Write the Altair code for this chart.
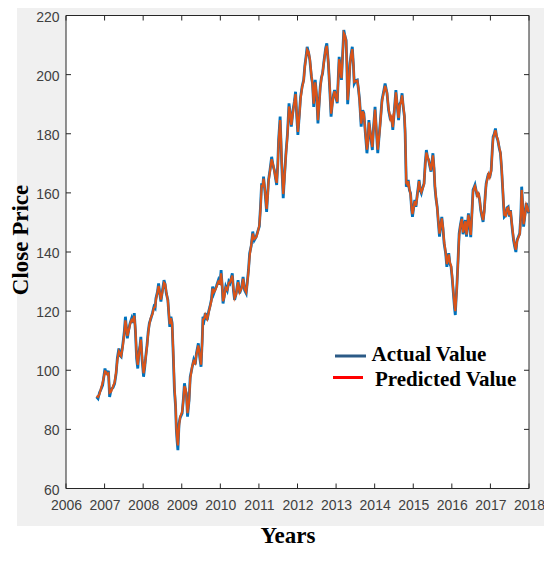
import altair as alt
import pandas as pd

# ---------------- data ----------------
YEARS = [
    2006.79, 2006.83, 2006.87, 2006.90, 2006.95, 2007.01, 2007.04, 2007.07, 2007.10, 2007.13,
    2007.17, 2007.22, 2007.26, 2007.30, 2007.33, 2007.37, 2007.40, 2007.43, 2007.47, 2007.51,
    2007.54, 2007.57, 2007.59, 2007.63, 2007.66, 2007.70, 2007.73, 2007.77, 2007.80, 2007.83,
    2007.86, 2007.89, 2007.92, 2007.94, 2007.97, 2008.01, 2008.04, 2008.07, 2008.10, 2008.13,
    2008.16, 2008.20, 2008.24, 2008.28, 2008.31, 2008.33, 2008.37, 2008.40, 2008.43, 2008.46,
    2008.50, 2008.54, 2008.57, 2008.60, 2008.64, 2008.67, 2008.69, 2008.72, 2008.75, 2008.78,
    2008.81, 2008.84, 2008.86, 2008.88, 2008.90, 2008.93, 2008.96, 2009.01, 2009.04, 2009.07,
    2009.10, 2009.12, 2009.15, 2009.19, 2009.22, 2009.27, 2009.31, 2009.35, 2009.38, 2009.43,
    2009.47, 2009.50, 2009.53, 2009.55, 2009.58, 2009.61, 2009.66, 2009.70, 2009.73, 2009.77,
    2009.80, 2009.83, 2009.86, 2009.90, 2009.95, 2009.99, 2010.02, 2010.05, 2010.07, 2010.10,
    2010.14, 2010.18, 2010.22, 2010.25, 2010.31, 2010.34, 2010.37, 2010.41, 2010.46, 2010.50,
    2010.55, 2010.59, 2010.63, 2010.67, 2010.70, 2010.73, 2010.76, 2010.80, 2010.84, 2010.88,
    2010.93, 2010.97, 2011.01, 2011.04, 2011.07, 2011.10, 2011.12, 2011.16, 2011.20, 2011.23,
    2011.25, 2011.29, 2011.33, 2011.37, 2011.40, 2011.43, 2011.46, 2011.49, 2011.51, 2011.55,
    2011.57, 2011.59, 2011.63, 2011.66, 2011.70, 2011.74, 2011.78, 2011.81, 2011.84, 2011.89,
    2011.92, 2011.95, 2011.98, 2012.01, 2012.05, 2012.08, 2012.12, 2012.16, 2012.19, 2012.22,
    2012.25, 2012.29, 2012.32, 2012.36, 2012.39, 2012.42, 2012.46, 2012.50, 2012.53, 2012.56,
    2012.59, 2012.62, 2012.65, 2012.68, 2012.70, 2012.73, 2012.76, 2012.80, 2012.84, 2012.87,
    2012.90, 2012.93, 2012.96, 2013.00, 2013.03, 2013.06, 2013.08, 2013.11, 2013.14, 2013.17,
    2013.20, 2013.23, 2013.26, 2013.28, 2013.30, 2013.33, 2013.36, 2013.39, 2013.42, 2013.45,
    2013.47, 2013.51, 2013.55, 2013.58, 2013.61, 2013.65, 2013.69, 2013.72, 2013.76, 2013.80,
    2013.83, 2013.85, 2013.89, 2013.94, 2013.97, 2014.01, 2014.04, 2014.08, 2014.12, 2014.15,
    2014.19, 2014.24, 2014.27, 2014.32, 2014.36, 2014.41, 2014.44, 2014.47, 2014.51, 2014.55,
    2014.58, 2014.62, 2014.65, 2014.68, 2014.71, 2014.74, 2014.77, 2014.79, 2014.82, 2014.85,
    2014.87, 2014.90, 2014.93, 2014.96, 2014.98, 2015.02, 2015.04, 2015.07, 2015.10, 2015.13,
    2015.15, 2015.18, 2015.21, 2015.25, 2015.28, 2015.31, 2015.34, 2015.37, 2015.40, 2015.43,
    2015.46, 2015.49, 2015.51, 2015.54, 2015.56, 2015.59, 2015.62, 2015.65, 2015.68, 2015.71,
    2015.74, 2015.77, 2015.80, 2015.84, 2015.87, 2015.90, 2015.92, 2015.95, 2015.98, 2016.01,
    2016.04, 2016.07, 2016.09, 2016.11, 2016.13, 2016.16, 2016.19, 2016.22, 2016.26, 2016.29,
    2016.32, 2016.35, 2016.38, 2016.41, 2016.43, 2016.46, 2016.49, 2016.52, 2016.55, 2016.58,
    2016.60, 2016.64, 2016.66, 2016.69, 2016.72, 2016.75, 2016.78, 2016.81, 2016.84, 2016.87,
    2016.89, 2016.92, 2016.95, 2016.98, 2017.02, 2017.05, 2017.07, 2017.10, 2017.13, 2017.16,
    2017.19, 2017.23, 2017.26, 2017.29, 2017.32, 2017.34, 2017.36, 2017.40, 2017.43, 2017.46,
    2017.49, 2017.52, 2017.55, 2017.57, 2017.60, 2017.63, 2017.66, 2017.69, 2017.72, 2017.76,
    2017.79, 2017.81, 2017.84, 2017.86, 2017.89, 2017.93, 2017.96, 2017.99,
]

ACTUAL = [
    91.0, 90.4, 92.5, 93.3, 95.0, 100.6, 99.0, 98.9, 99.8, 91.0,
    93.5, 94.2, 95.5, 99.0, 104.0, 107.4, 105.0, 104.6, 108.5, 113.0,
    118.1, 113.5, 110.8, 114.0, 115.9, 117.5, 116.0, 119.3, 113.0, 104.0,
    100.6, 106.0, 108.5, 111.3, 104.0, 97.8, 101.0, 105.0, 108.5, 113.0,
    115.9, 117.5, 119.3, 121.5, 121.0, 124.3, 126.5, 129.4, 126.0, 123.2,
    127.0, 130.5, 129.0, 126.0, 123.8, 118.0, 114.7, 118.1, 116.0, 105.0,
    93.3, 87.7, 79.8, 76.0, 73.0, 82.0, 84.0, 85.4, 90.0, 95.6,
    93.0, 92.2, 84.3, 90.0, 97.8, 101.0, 103.5, 102.0, 105.7, 109.1,
    104.0, 101.2, 110.0, 118.1, 117.0, 119.3, 117.0, 120.0, 121.5, 124.0,
    128.3, 126.0, 127.1, 128.5, 130.5, 129.0, 133.9, 128.0, 122.6, 125.0,
    128.3, 127.0, 130.0, 129.4, 132.8, 127.0, 123.8, 126.0, 130.5, 126.0,
    128.0, 131.6, 127.0, 126.0, 130.0, 134.0, 139.6, 142.0, 146.9, 144.0,
    145.2, 147.0, 148.6, 155.0, 163.2, 162.0, 165.5, 160.0, 153.6, 160.0,
    164.4, 168.0, 172.2, 169.0, 167.7, 165.0, 162.7, 170.0, 177.9, 185.8,
    178.0, 170.0, 158.2, 165.0, 173.4, 180.0, 190.3, 187.0, 182.4, 188.6,
    191.0, 194.2, 186.0, 179.6, 187.0, 192.5, 196.0, 198.2, 203.0, 206.0,
    209.4, 207.2, 204.9, 199.3, 197.0, 189.1, 198.2, 192.0, 183.5, 190.0,
    195.9, 199.0, 200.4, 204.0, 206.0, 209.0, 210.6, 203.8, 194.0, 185.8,
    190.0, 193.0, 194.8, 192.0, 190.3, 200.0, 206.0, 202.0, 198.2, 207.0,
    215.1, 213.0, 211.7, 203.0, 190.0, 196.0, 203.8, 207.0, 209.4, 203.0,
    197.0, 198.0, 198.2, 195.0, 191.4, 182.4, 188.0, 186.9, 180.0, 173.4,
    178.0, 184.6, 180.0, 174.5, 182.0, 189.1, 182.0, 173.4, 180.0, 184.6,
    191.4, 194.8, 197.0, 193.7, 188.0, 184.6, 186.0, 181.3, 188.0, 194.8,
    190.0, 184.6, 190.0, 190.8, 193.7, 189.1, 186.0, 180.1, 162.1, 163.0,
    164.4, 161.0, 159.9, 154.0, 151.9, 156.0, 157.6, 155.3, 159.0, 162.0,
    164.4, 161.0, 159.9, 162.0, 163.2, 170.0, 174.5, 172.0, 171.1, 169.0,
    167.2, 171.0, 173.4, 168.0, 162.1, 158.0, 155.3, 150.0, 145.2, 149.0,
    151.9, 148.0, 142.9, 139.6, 135.0, 138.0, 139.6, 136.0, 135.0, 131.0,
    126.0, 121.0, 118.7, 124.0, 128.3, 137.0, 146.3, 149.0, 151.9, 146.0,
    148.6, 150.8, 145.2, 150.0, 153.1, 149.0, 145.0, 153.0, 161.0, 162.0,
    162.7, 160.0, 158.7, 160.0, 157.6, 154.0, 152.0, 150.2, 154.0, 160.0,
    163.2, 165.0, 166.6, 165.0, 167.7, 175.0, 179.0, 180.0, 181.8, 179.0,
    177.9, 175.0, 173.4, 168.0, 161.0, 156.0, 151.9, 152.5, 155.0, 155.3,
    152.0, 154.2, 150.0, 147.4, 144.0, 141.8, 140.0, 144.0, 145.0, 146.3,
    153.0, 162.1, 155.0, 148.6, 152.0, 156.5, 155.0, 153.1,
]

PREDICTED = [
    91.3, 91.0, 92.0, 93.5, 95.8, 99.6, 99.4, 98.6, 98.9, 92.4,
    92.8, 94.6, 95.9, 99.4, 103.3, 106.4, 105.6, 104.9, 108.0, 112.2,
    116.9, 114.3, 111.6, 113.6, 115.6, 117.0, 116.6, 118.4, 113.8, 105.0,
    101.8, 105.3, 108.2, 110.4, 104.8, 99.0, 101.3, 104.6, 108.1, 112.4,
    115.5, 117.8, 119.0, 121.2, 121.4, 123.7, 126.3, 128.5, 126.4, 123.9,
    126.6, 129.6, 129.2, 126.5, 123.5, 118.6, 115.6, 117.6, 115.5, 106.2,
    94.5, 88.2, 80.6, 77.0, 74.6, 81.2, 84.3, 85.9, 89.6, 94.6,
    93.6, 91.8, 85.5, 89.6, 97.2, 101.3, 103.1, 102.4, 105.3, 108.4,
    104.6, 101.9, 109.4, 117.2, 117.4, 118.8, 117.4, 119.7, 121.3, 123.6,
    127.6, 126.4, 126.9, 128.2, 130.0, 129.4, 132.8, 128.6, 123.4, 124.6,
    127.9, 127.3, 129.6, 129.7, 132.0, 127.6, 124.5, 125.7, 129.8, 126.4,
    127.7, 131.0, 127.5, 126.4, 129.6, 133.5, 138.8, 142.3, 146.2, 144.4,
    145.0, 146.7, 148.9, 154.2, 162.4, 162.4, 164.8, 160.6, 154.6, 159.4,
    164.0, 167.6, 171.4, 169.4, 167.4, 165.3, 163.4, 169.4, 177.1, 184.6,
    178.8, 170.8, 159.6, 164.4, 172.8, 179.5, 189.2, 187.4, 183.0, 188.0,
    190.7, 193.4, 186.8, 180.6, 186.4, 192.0, 195.7, 198.0, 202.6, 205.6,
    208.4, 207.5, 205.2, 199.8, 196.6, 190.2, 197.4, 192.5, 184.6, 189.5,
    195.4, 198.7, 200.6, 203.6, 205.7, 208.6, 209.7, 204.2, 194.6, 186.8,
    189.6, 192.6, 194.4, 192.3, 190.8, 199.2, 205.2, 202.4, 198.8, 206.3,
    214.0, 213.3, 211.4, 203.6, 191.4, 195.6, 203.2, 206.7, 208.6, 203.5,
    197.5, 197.8, 198.0, 195.4, 191.0, 183.4, 187.6, 186.6, 180.5, 174.6,
    177.6, 183.8, 180.4, 175.5, 181.6, 188.2, 182.5, 174.6, 179.6, 184.2,
    190.9, 194.4, 196.2, 193.9, 188.5, 184.9, 185.7, 182.2, 187.6, 194.0,
    190.4, 185.4, 189.6, 190.6, 193.0, 189.5, 186.3, 181.0, 163.4, 162.8,
    164.0, 161.3, 159.5, 154.6, 152.8, 155.6, 157.2, 155.7, 158.6, 161.7,
    164.0, 161.4, 160.3, 161.7, 163.0, 169.3, 173.6, 172.3, 171.0, 169.3,
    167.6, 170.6, 172.7, 168.4, 162.8, 158.4, 155.0, 150.5, 146.2, 148.6,
    151.4, 148.4, 143.6, 139.9, 135.9, 137.6, 139.2, 136.4, 135.4, 131.6,
    126.6, 121.9, 120.0, 123.6, 128.0, 136.3, 145.5, 148.7, 151.2, 146.6,
    148.3, 150.4, 145.9, 149.6, 152.6, 149.4, 145.8, 152.4, 160.3, 161.8,
    162.3, 160.3, 159.0, 159.7, 157.9, 154.4, 152.4, 150.8, 153.6, 159.5,
    162.9, 164.7, 166.3, 165.3, 167.4, 174.4, 178.4, 179.8, 181.2, 179.3,
    178.1, 175.3, 173.6, 168.5, 161.6, 156.6, 152.6, 152.3, 154.7, 155.0,
    152.4, 153.9, 150.4, 147.8, 144.5, 142.3, 140.8, 143.6, 144.8, 146.0,
    152.4, 161.0, 155.4, 149.4, 151.7, 156.0, 155.2, 153.4,
]

X_TICKS = list(range(2006, 2019))
Y_TICKS = list(range(60, 221, 20))
SERIES = ["Actual Value", "Predicted Value"]

# ---------------- styling ----------------
W, H = 463, 473
LINE_BLUE = "#0072BD"
LINE_ORANGE = "#D95319"
LEG_BLUE = "#2b5a86"
LEG_RED = "#ff0000"
FIG_GRAY = "#f0f0f0"
AX_COLOR = "#262626"
LABEL_COLOR = "#404040"
SERIF = "Liberation Serif"
SANS = "Liberation Sans"

df = pd.DataFrame({"year": YEARS, "actual": ACTUAL, "predicted": PREDICTED})
xt = pd.DataFrame({"year": X_TICKS})
yt = pd.DataFrame({"price": Y_TICKS})
one = pd.DataFrame({"k": [0]})

XS = alt.Scale(domain=[2006, 2018], nice=False, zero=False)
YS = alt.Scale(domain=[60, 220], nice=False, zero=False)
XA = alt.Axis(values=X_TICKS, format="d", title=None, grid=False, domain=False,
              ticks=False, tickSize=0, labelFont=SANS, labelFontSize=14,
              labelColor=LABEL_COLOR, labelPadding=10, labelFlush=False,
              labelOverlap=False, zindex=1)
YA = alt.Axis(values=Y_TICKS, format="d", title=None, grid=False, domain=False,
              ticks=False, tickSize=0, labelFont=SANS, labelFontSize=14,
              labelColor=LABEL_COLOR, labelPadding=7, labelFlush=False,
              labelOverlap=False, labelOffset=1.5, zindex=1)

fig_bg = alt.Chart(one).mark_rect(fill=FIG_GRAY).encode(
    x=alt.value(-49), x2=alt.value(W + 20), y=alt.value(-8), y2=alt.value(510.5))
plot_bg = alt.Chart(one).mark_rect(fill="white", stroke=AX_COLOR, strokeWidth=1).encode(
    x=alt.value(0), x2=alt.value(W), y=alt.value(0), y2=alt.value(H))

actual = alt.Chart(df).mark_line(color=LINE_BLUE, strokeWidth=2.8).encode(
    x=alt.X("year:Q", scale=XS, axis=XA),
    y=alt.Y("actual:Q", scale=YS, axis=YA))
predicted = alt.Chart(df).mark_line(color=LINE_ORANGE, strokeWidth=2.2).encode(
    x=alt.X("year:Q", scale=XS, axis=XA),
    y=alt.Y("predicted:Q", scale=YS, axis=YA))

tick_style = dict(color=AX_COLOR, strokeWidth=1)
tick_bottom = alt.Chart(xt).mark_rule(**tick_style).encode(
    x=alt.X("year:Q", scale=XS, axis=XA), y=alt.value(H), y2=alt.value(H - 5))
tick_top = alt.Chart(xt).mark_rule(**tick_style).encode(
    x=alt.X("year:Q", scale=XS, axis=XA), y=alt.value(0), y2=alt.value(5))
tick_left = alt.Chart(yt).mark_rule(**tick_style).encode(
    y=alt.Y("price:Q", scale=YS, axis=YA), x=alt.value(0), x2=alt.value(5))
tick_right = alt.Chart(yt).mark_rule(**tick_style).encode(
    y=alt.Y("price:Q", scale=YS, axis=YA), x=alt.value(W), x2=alt.value(W - 5))

leg_line1 = alt.Chart(one).mark_rule(color=LEG_BLUE, strokeWidth=3).encode(
    x=alt.value(269), x2=alt.value(300), y=alt.value(340.5))
leg_line2 = alt.Chart(one).mark_rule(color=LEG_RED, strokeWidth=3).encode(
    x=alt.value(267), x2=alt.value(297), y=alt.value(362))
leg_text1 = alt.Chart(one).mark_text(text=SERIES[0], font=SERIF, fontWeight="bold",
                                      fontSize=21, color="#000", align="left",
                                      baseline="alphabetic").encode(
    x=alt.value(305.5), y=alt.value(345.2))
leg_text2 = alt.Chart(one).mark_text(text=SERIES[1], font=SERIF, fontWeight="bold",
                                      fontSize=21, color="#000", align="left",
                                      baseline="alphabetic").encode(
    x=alt.value(309), y=alt.value(370.2))

y_title = alt.Chart(one).mark_text(text="Close Price", font=SERIF, fontWeight="bold",
                                    fontSize=23, color="#000", angle=270,
                                    align="center", baseline="middle").encode(
    x=alt.value(-45.5), y=alt.value(224.5))
x_title = alt.Chart(one).mark_text(text="Years", font=SERIF, fontWeight="bold",
                                    fontSize=23, color="#000", align="center",
                                    baseline="alphabetic").encode(
    x=alt.value(222), y=alt.value(527.5))

chart = alt.layer(
    fig_bg, plot_bg, actual, predicted,
    tick_bottom, tick_top, tick_left, tick_right,
    leg_line1, leg_line2, leg_text1, leg_text2,
    y_title, x_title,
).properties(
    width=W, height=H,
    autosize=alt.AutoSizeParams(type="none"),
    padding={"left": 58, "top": 7.5, "right": 15, "bottom": 60.5},
    background="white",
).configure_view(stroke=None)

chart.save("out.html", embed_options={"renderer": "svg", "actions": False})
